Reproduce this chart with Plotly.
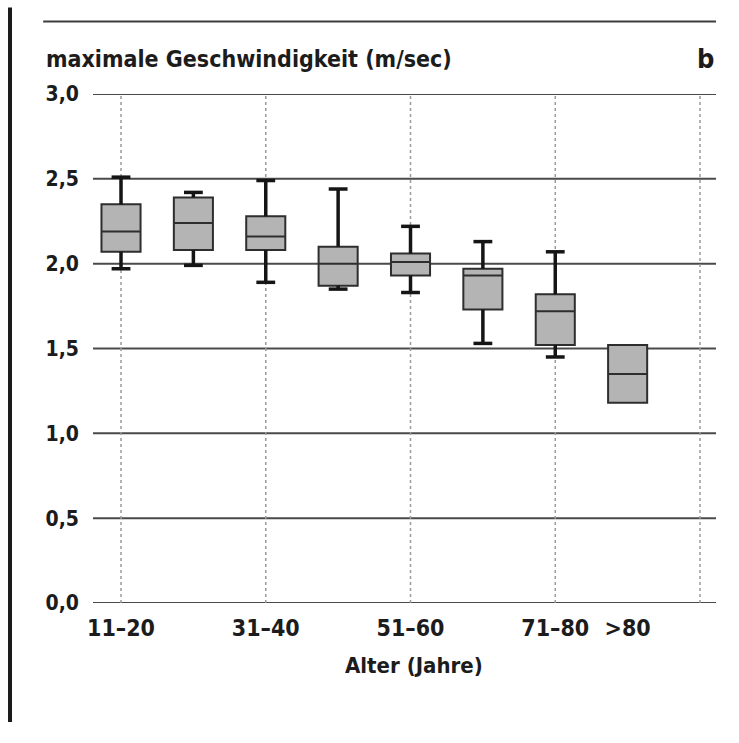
import plotly.graph_objects as go

# Age groups (years) and maximal walking speed (m/sec) per group
age_groups = ["11–20", "21–30", "31–40", "41–50", "51–60", "61–70", "71–80", ">80"]
q1 = [2.07, 2.08, 2.08, 1.87, 1.93, 1.73, 1.52, 1.18]
median = [2.19, 2.24, 2.16, 2.00, 2.01, 1.93, 1.72, 1.35]
q3 = [2.35, 2.39, 2.28, 2.10, 2.06, 1.97, 1.82, 1.52]
whisker_low = [1.97, 1.99, 1.89, 1.85, 1.83, 1.53, 1.45, None]
whisker_high = [2.51, 2.42, 2.49, 2.44, 2.22, 2.13, 2.07, None]

# Axis labelling
x_tick_pos = [0, 2, 4, 6, 7]
x_tick_text = ["11–20", "31–40", "51–60", "71–80", ">80"]
x_dotted = [0, 2, 4, 6, 8]
y_grid = [0.0, 0.5, 1.0, 1.5, 2.0, 2.5, 3.0]

FONT = "Liberation Sans Narrow, DejaVu Sans Condensed, Arial Narrow, sans-serif"
INK = "#1c1c1c"
GRID = "#4a4a4a"

pos = list(range(len(age_groups)))
BOX_W = 0.54
CAP = 0.13

fig = go.Figure()

# Whiskers (thick lines with caps) drawn from the whisker values
wx, wy = [], []
for p, lo, a, b, hi in zip(pos, whisker_low, q1, q3, whisker_high):
    if hi is not None:
        wx += [p, p, None, p - CAP, p + CAP, None]
        wy += [b, hi, None, hi, hi, None]
    if lo is not None:
        wx += [p, p, None, p - CAP, p + CAP, None]
        wy += [a, lo, None, lo, lo, None]
fig.add_trace(go.Scatter(x=wx, y=wy, mode="lines",
                         line=dict(color="#151515", width=3.5),
                         hoverinfo="skip", showlegend=False))

# Boxes: quartiles and median
fig.add_trace(go.Box(
    x=pos, q1=q1, median=median, q3=q3,
    lowerfence=q1, upperfence=q3,
    width=BOX_W, whiskerwidth=0,
    fillcolor="#b4b4b4",
    line=dict(color="#2e2e2e", width=2),
    hoverinfo="skip", showlegend=False,
))

shapes = []
for v in y_grid:
    shapes.append(dict(type="line", xref="paper", yref="y", x0=0, x1=1, y0=v, y1=v,
                       line=dict(color=GRID, width=2), layer="below"))
for xv in x_dotted:
    shapes.append(dict(type="line", xref="x", yref="paper", x0=xv, x1=xv, y0=0, y1=1,
                       line=dict(color="#9a9a9a", width=1.5, dash="dot"), layer="below"))
# Frame: rule above the heading and bar at the left edge
shapes.append(dict(type="line", xref="paper", yref="paper", x0=-0.080, x1=1.0,
                   y0=1.1426, y1=1.1426, line=dict(color="#3c3c3c", width=2)))
shapes.append(dict(type="line", xref="paper", yref="paper", x0=-0.1332, x1=-0.1332,
                   y0=1.170, y1=-0.234, line=dict(color="#1a1a1a", width=4)))

annotations = [
    dict(text="maximale Geschwindigkeit (m/sec)", xref="paper", yref="paper",
         x=-0.078, y=1.068, xanchor="left", yanchor="middle", showarrow=False,
         font=dict(family=FONT, size=23, color=INK, weight="bold")),
    dict(text="b", xref="paper", yref="paper", x=1.0, y=1.07,
         xanchor="right", yanchor="middle", showarrow=False,
         font=dict(family=FONT, size=27, color=INK, weight="bold")),
    dict(text="Alter (Jahre)", xref="paper", yref="paper", x=0.515, y=-0.122,
         xanchor="center", yanchor="middle", showarrow=False,
         font=dict(family=FONT, size=22, color=INK, weight="bold")),
]

fig.update_layout(
    width=739, height=743,
    margin=dict(l=93, r=23, t=94, b=140),
    paper_bgcolor="white", plot_bgcolor="white",
    separators=",.",
    shapes=shapes, annotations=annotations,
    xaxis=dict(range=[-0.387, 8.221], showgrid=False, zeroline=False, showline=False,
               tickvals=x_tick_pos, ticktext=x_tick_text, ticks="",
               ticklabelstandoff=9,
               tickfont=dict(family=FONT, size=23, color=INK, weight="bold")),
    yaxis=dict(range=[0, 3], showgrid=False, zeroline=False, showline=False,
               tickvals=y_grid, tickformat=".1f", ticks="",
               ticklabelstandoff=13,
               tickfont=dict(family=FONT, size=21, color=INK, weight="bold")),
)

fig.write_html("out.html")
